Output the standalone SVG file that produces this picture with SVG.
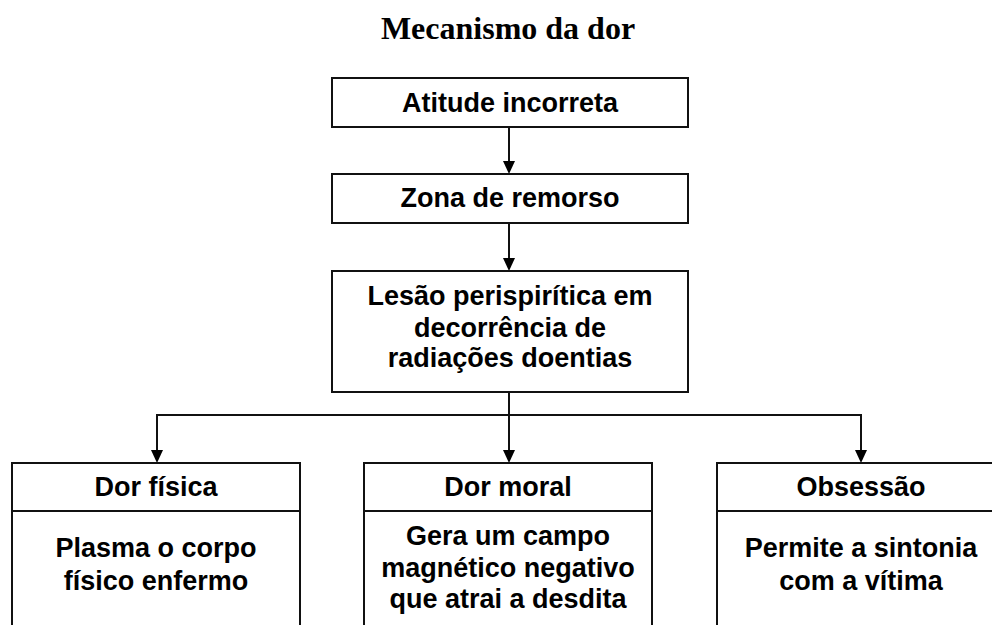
<svg xmlns="http://www.w3.org/2000/svg" width="992" height="625" viewBox="0 0 992 625">
<defs>
<style>
.box{fill:#fff;stroke:#111;stroke-width:2}
.t{font-family:"Liberation Sans",Arial,sans-serif;font-weight:bold;font-size:27px;text-anchor:middle;fill:#000}
.title{font-family:"Liberation Serif","Times New Roman",serif;font-weight:bold;font-size:32px;text-anchor:middle;fill:#000}
.c{fill:none;stroke:#111;stroke-width:2}
.ah{fill:#000}
</style>
</defs>
<rect width="992" height="625" fill="#fff"/>
<text class="title" x="508" y="39">Mecanismo da dor</text>
<g id="connectors">
<line class="c" x1="509" y1="127" x2="509" y2="162"/>
<path class="ah" d="M503,161 L515,161 L509,174 Z"/>
<line class="c" x1="509" y1="223" x2="509" y2="259"/>
<path class="ah" d="M503,258 L515,258 L509,271 Z"/>
<line class="c" x1="509" y1="392" x2="509" y2="451"/>
<path class="ah" d="M503,450 L515,450 L509,463 Z"/>
<polyline class="c" points="157,451 157,415 861,415 861,451"/>
<path class="ah" d="M151,450 L163,450 L157,463 Z"/>
<path class="ah" d="M855,450 L867,450 L861,463 Z"/>
</g>
<g id="n1">
<rect class="box" x="332" y="78" width="356" height="49"/>
<text class="t" x="510" y="112">Atitude incorreta</text>
</g>
<g id="n2">
<rect class="box" x="332" y="174" width="356" height="49"/>
<text class="t" x="510" y="207">Zona de remorso</text>
</g>
<g id="n3">
<rect class="box" x="332" y="271" width="356" height="121"/>
<text class="t" x="510" y="305">Lesão perispirítica em</text>
<text class="t" x="510" y="337">decorrência de</text>
<text class="t" x="510" y="367">radiações doentias</text>
</g>
<g id="n4">
<rect class="box" x="12" y="463" width="288" height="180"/>
<line class="c" x1="12" y1="511" x2="300" y2="511"/>
<text class="t" x="156" y="496">Dor física</text>
<text class="t" x="156" y="557">Plasma o corpo</text>
<text class="t" x="156" y="590">físico enfermo</text>
</g>
<g id="n5">
<rect class="box" x="364" y="463" width="288" height="180"/>
<line class="c" x1="364" y1="511" x2="652" y2="511"/>
<text class="t" x="508" y="496">Dor moral</text>
<text class="t" x="508" y="545">Gera um campo</text>
<text class="t" x="508" y="577">magnético negativo</text>
<text class="t" x="508" y="608">que atrai a desdita</text>
</g>
<g id="n6">
<rect class="box" x="717" y="463" width="288" height="180"/>
<line class="c" x1="717" y1="511" x2="1005" y2="511"/>
<text class="t" x="861" y="496">Obsessão</text>
<text class="t" x="861" y="557">Permite a sintonia</text>
<text class="t" x="861" y="590">com a vítima</text>
</g>
</svg>
